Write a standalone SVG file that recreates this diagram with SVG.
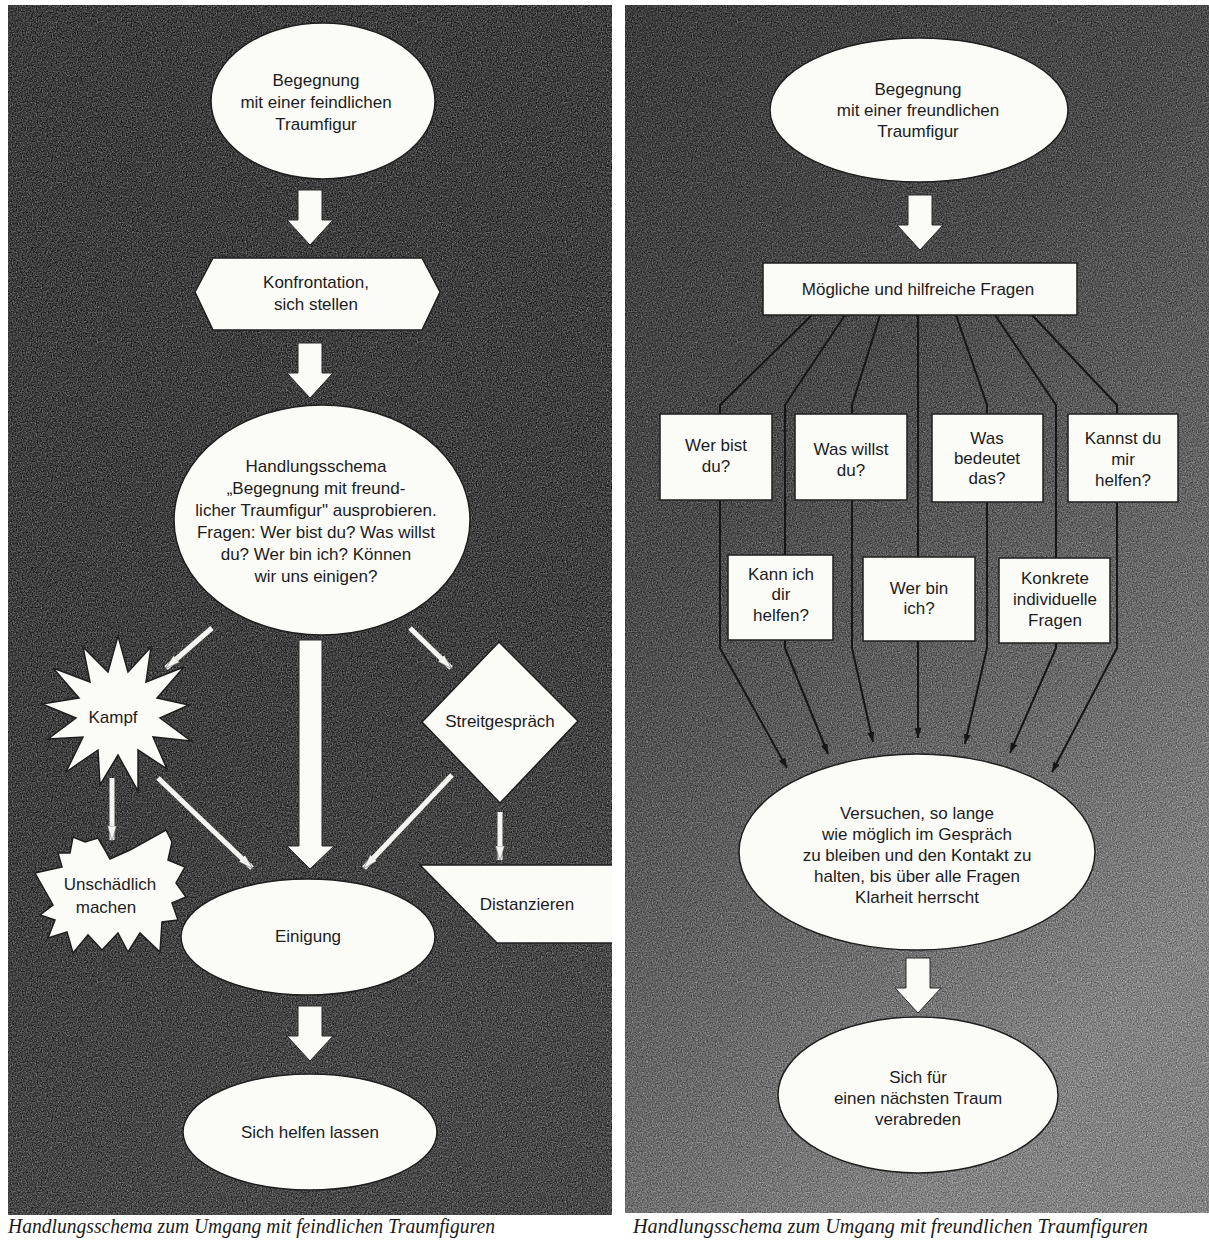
<svg xmlns="http://www.w3.org/2000/svg" xmlns:xlink="http://www.w3.org/1999/xlink" width="1209" height="1240" viewBox="0 0 1209 1240">
<style>
.node{fill:#fbfbf8;stroke:#1e1e1e;stroke-width:1.5}
.t{font-family:"Liberation Sans",Arial,sans-serif;font-size:17px;fill:#1c1c1c;text-anchor:middle}
.cap{font-family:"Liberation Serif","Times New Roman",serif;font-style:italic;font-size:20px;fill:#1a1a1a}
.warrow{stroke:#f4f4f0;stroke-width:5;fill:none;marker-end:url(#wHead)}
.dline{stroke:#161616;stroke-width:2;fill:none;marker-end:url(#dHead)}
.block{fill:#fbfbf8;stroke:#2a2a2a;stroke-width:1}
</style>
<defs>
<filter id="grain" x="0" y="0" width="100%" height="100%" color-interpolation-filters="sRGB">
<feTurbulence type="fractalNoise" baseFrequency="0.8" numOctaves="2" seed="5"/>
<feColorMatrix type="matrix" values="0.9 0.9 0.9 0 -0.95  0.9 0.9 0.9 0 -0.95  0.9 0.9 0.9 0 -0.95  0 0 0 0 1"/>
</filter>
<linearGradient id="gL" x1="0" y1="0" x2="0.3" y2="1">
<stop offset="0" stop-color="#222"/>
<stop offset="0.7" stop-color="#272727"/>
<stop offset="1" stop-color="#353535"/>
</linearGradient>
<linearGradient id="gR" x1="0" y1="0" x2="0.5" y2="1">
<stop offset="0" stop-color="#262626"/>
<stop offset="0.4" stop-color="#3c3c3c"/>
<stop offset="0.75" stop-color="#6c6c6c"/>
<stop offset="1" stop-color="#939393"/>
</linearGradient>
<clipPath id="clipL"><rect x="8" y="5" width="604" height="1210"/></clipPath>
<marker id="wHead" viewBox="0 0 15 10" refX="14" refY="5" markerWidth="3" markerHeight="2" orient="auto" markerUnits="strokeWidth">
<path d="M0,0.5 L15,5 L0,9.5 z" fill="#f4f4f0" stroke="#555" stroke-width="0.5"/>
</marker>
<marker id="dHead" viewBox="0 0 10 7" refX="10" refY="3.5" markerWidth="5" markerHeight="3.5" orient="auto" markerUnits="strokeWidth">
<path d="M0,0 L10,3.5 L0,7 z" fill="#161616"/>
</marker>
<path id="blockArrow" d="M-12,0 H12 V30 H23 L0,55 L-23,30 H-12 Z"/>
</defs>

<!-- panels -->
<g id="panels">
<rect x="8" y="5" width="604" height="1210" fill="url(#gL)"/>
<rect x="8" y="5" width="604" height="1210" filter="url(#grain)" opacity="0.4"/>
<rect x="625" y="5" width="584" height="1208" fill="url(#gR)"/>
<rect x="625" y="5" width="584" height="1208" filter="url(#grain)" opacity="0.35"/>
</g>

<!-- connectors -->
<g id="connectors">
<use xlink:href="#blockArrow" href="#blockArrow" class="block" transform="translate(310,190)"/>
<use xlink:href="#blockArrow" href="#blockArrow" class="block" transform="translate(310,343)"/>
<path class="block" d="M299,640 H322 V846 H334 L310,869 L287,846 H299 Z"/>
<use xlink:href="#blockArrow" href="#blockArrow" class="block" transform="translate(310,1006)"/>
<line class="warrow" x1="212" y1="628" x2="166" y2="668"/>
<line class="warrow" x1="410" y1="628" x2="451" y2="668"/>
<line class="warrow" x1="112" y1="778" x2="112" y2="840"/>
<line class="warrow" x1="158" y1="778" x2="252" y2="868"/>
<line class="warrow" x1="452" y1="775" x2="364" y2="868"/>
<line class="warrow" x1="500" y1="812" x2="500" y2="860"/>

<use xlink:href="#blockArrow" href="#blockArrow" class="block" transform="translate(920,195)"/>
<polyline class="dline" points="812,315 720,405 720,648 787,768"/>
<polyline class="dline" points="845,315 785,405 785,648 828,754"/>
<polyline class="dline" points="880,315 852,405 852,648 873,742"/>
<polyline class="dline" points="918,315 918,738"/>
<polyline class="dline" points="956,315 987,405 987,648 965,744"/>
<polyline class="dline" points="995,315 1056,405 1056,648 1010,753"/>
<polyline class="dline" points="1032,315 1117,405 1117,648 1052,772"/>
<use xlink:href="#blockArrow" href="#blockArrow" class="block" transform="translate(918,958)"/>
</g>

<!-- left nodes -->
<g id="n-feindlich">
<ellipse class="node" cx="323" cy="101" rx="112" ry="78"/>
<text class="t" x="316" y="86">Begegnung</text>
<text class="t" x="316" y="108">mit einer feindlichen</text>
<text class="t" x="316" y="130">Traumfigur</text>
</g>
<g id="n-konfrontation">
<polygon class="node" points="195,292 213,258 422,258 440,292 422,330 213,330"/>
<text class="t" x="316" y="288">Konfrontation,</text>
<text class="t" x="316" y="310">sich stellen</text>
</g>
<g id="n-handlungsschema">
<ellipse class="node" cx="322" cy="520" rx="148" ry="115"/>
<text class="t" x="316" y="472">Handlungsschema</text>
<text class="t" x="316" y="494">„Begegnung mit freund-</text>
<text class="t" x="316" y="516">licher Traumfigur" ausprobieren.</text>
<text class="t" x="316" y="538">Fragen: Wer bist du? Was willst</text>
<text class="t" x="316" y="560">du? Wer bin ich? Können</text>
<text class="t" x="316" y="582">wir uns einigen?</text>
</g>
<g id="n-kampf">
<polygon class="node" points="118,636 128,672 151,647 146,682 184,667 157,698 189,705 160,718 191,741 153,737 167,769 138,750 138,791 118,755 100,785 98,750 66,772 83,737 48,739 76,718 42,704 79,698 53,668 90,682 83,647 108,672"/>
<text class="t" x="113" y="723">Kampf</text>
</g>
<g id="n-streit">
<polygon class="node" points="499,642 578,721 500,803 422,722"/>
<text class="t" x="500" y="727">Streitgespräch</text>
</g>
<g id="n-unschaedlich">
<polygon class="node" points="73,837 85,842 98,838 105,850 110,859 130,850 166,830 172,842 168,860 185,867 176,883 186,897 172,903 178,920 162,922 160,952 140,933 128,952 118,933 102,950 88,935 73,953 67,932 48,938 55,920 40,915 53,905 35,873 62,867 58,853 70,853"/>
<text class="t" x="110" y="890">Unschädlich</text>
<text class="t" x="106" y="913">machen</text>
</g>
<g id="n-distanzieren" clip-path="url(#clipL)">
<polygon class="node" points="420,865 640,865 717,943 497,943"/>
<text class="t" x="527" y="910">Distanzieren</text>
</g>
<g id="n-einigung">
<ellipse class="node" cx="308" cy="937" rx="127" ry="58"/>
<text class="t" x="308" y="942">Einigung</text>
</g>
<g id="n-helfen">
<ellipse class="node" cx="310" cy="1132" rx="127" ry="58"/>
<text class="t" x="310" y="1138">Sich helfen lassen</text>
</g>

<!-- right nodes -->
<g id="n-freundlich">
<ellipse class="node" cx="919" cy="110" rx="149" ry="72"/>
<text class="t" x="918" y="95">Begegnung</text>
<text class="t" x="918" y="116">mit einer freundlichen</text>
<text class="t" x="918" y="137">Traumfigur</text>
</g>
<g id="n-fragen">
<rect class="node" x="763" y="263" width="314" height="52"/>
<text class="t" x="918" y="295">Mögliche und hilfreiche Fragen</text>
</g>
<g id="n-werbist">
<rect class="node" x="660" y="414" width="112" height="86"/>
<text class="t" x="716" y="451">Wer bist</text>
<text class="t" x="716" y="472">du?</text>
</g>
<g id="n-waswillst">
<rect class="node" x="795" y="414" width="112" height="86"/>
<text class="t" x="851" y="455">Was willst</text>
<text class="t" x="851" y="476">du?</text>
</g>
<g id="n-wasbedeutet">
<rect class="node" x="932" y="414" width="111" height="88"/>
<text class="t" x="987" y="444">Was</text>
<text class="t" x="987" y="464">bedeutet</text>
<text class="t" x="987" y="484">das?</text>
</g>
<g id="n-kannstdu">
<rect class="node" x="1068" y="414" width="110" height="88"/>
<text class="t" x="1123" y="444">Kannst du</text>
<text class="t" x="1123" y="465">mir</text>
<text class="t" x="1123" y="486">helfen?</text>
</g>
<g id="n-kannich">
<rect class="node" x="728" y="555" width="105" height="85"/>
<text class="t" x="781" y="580">Kann ich</text>
<text class="t" x="781" y="600">dir</text>
<text class="t" x="781" y="621">helfen?</text>
</g>
<g id="n-werbin">
<rect class="node" x="863" y="557" width="112" height="84"/>
<text class="t" x="919" y="594">Wer bin</text>
<text class="t" x="919" y="614">ich?</text>
</g>
<g id="n-konkrete">
<rect class="node" x="999" y="558" width="111" height="85"/>
<text class="t" x="1055" y="584">Konkrete</text>
<text class="t" x="1055" y="605">individuelle</text>
<text class="t" x="1055" y="626">Fragen</text>
</g>
<g id="n-versuchen">
<ellipse class="node" cx="917" cy="852" rx="178" ry="98"/>
<text class="t" x="917" y="819">Versuchen, so lange</text>
<text class="t" x="917" y="840">wie möglich im Gespräch</text>
<text class="t" x="917" y="861">zu bleiben und den Kontakt zu</text>
<text class="t" x="917" y="882">halten, bis über alle Fragen</text>
<text class="t" x="917" y="903">Klarheit herrscht</text>
</g>
<g id="n-verabreden">
<ellipse class="node" cx="918" cy="1095" rx="140" ry="78"/>
<text class="t" x="918" y="1083">Sich für</text>
<text class="t" x="918" y="1104">einen nächsten Traum</text>
<text class="t" x="918" y="1125">verabreden</text>
</g>

<g id="captions">
<text class="cap" x="8" y="1233" textLength="487" lengthAdjust="spacingAndGlyphs">Handlungsschema zum Umgang mit feindlichen Traumfiguren</text>
<text class="cap" x="633" y="1233" textLength="515" lengthAdjust="spacingAndGlyphs">Handlungsschema zum Umgang mit freundlichen Traumfiguren</text>
</g>
</svg>
